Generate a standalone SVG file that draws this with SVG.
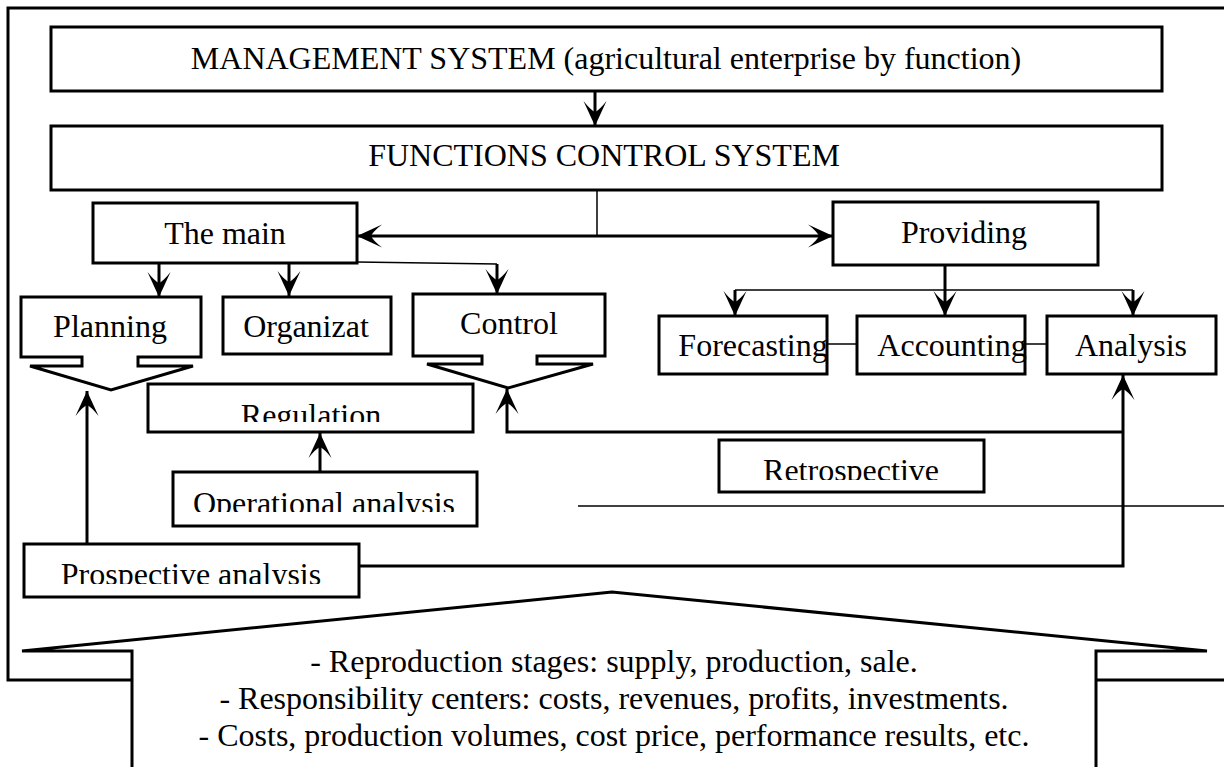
<svg xmlns="http://www.w3.org/2000/svg" width="1224" height="767" viewBox="0 0 1224 767">
<defs>
<style>
.box{fill:#fff;stroke:#000;stroke-width:3}
.thick{fill:none;stroke:#000;stroke-width:3}
.thin{fill:none;stroke:#000;stroke-width:1.5}
.lbl{font-family:"Liberation Serif","Times New Roman",serif;font-size:32px;fill:#000;text-anchor:middle}
</style>
<marker id="ah" viewBox="0 0 25 25" refX="25" refY="12.5" markerWidth="25" markerHeight="25" markerUnits="userSpaceOnUse" orient="auto-start-reverse">
<path d="M25,12.5 L0,1 Q9,8 11,12.5 Q9,17 0,24 Z" fill="#000"/>
</marker>
<clipPath id="cReg"><rect x="148" y="384" width="325" height="38"/></clipPath>
<clipPath id="cOp"><rect x="173" y="472" width="304" height="40"/></clipPath>
<clipPath id="cRet"><rect x="719" y="440" width="265" height="40"/></clipPath>
<clipPath id="cPro"><rect x="24" y="544" width="335" height="40"/></clipPath>
</defs>

<g id="frame">
<path class="thick" d="M1230,8 H8 V680 H1230"/>
</g>

<g id="connectors">
<line class="thick" x1="595" y1="91" x2="595" y2="126" marker-end="url(#ah)"/>
<line class="thin" x1="597" y1="190" x2="597" y2="236"/>
<line class="thick" x1="357" y1="236" x2="833" y2="236" marker-start="url(#ah)" marker-end="url(#ah)"/>
<line class="thick" x1="159" y1="263" x2="159" y2="297" marker-end="url(#ah)"/>
<line class="thick" x1="289" y1="263" x2="289" y2="296" marker-end="url(#ah)"/>
<path class="thin" d="M357,262 L497,264"/>
<line class="thick" x1="497" y1="264" x2="497" y2="294" marker-end="url(#ah)"/>
<line class="thick" x1="945" y1="265" x2="945" y2="316" marker-end="url(#ah)"/>
<line class="thin" x1="735" y1="290" x2="1133" y2="290"/>
<line class="thick" x1="735" y1="290" x2="735" y2="316" marker-end="url(#ah)"/>
<line class="thick" x1="1133" y1="290" x2="1133" y2="316" marker-end="url(#ah)"/>
<line class="thin" x1="827" y1="344" x2="857" y2="344"/>
<line class="thin" x1="1025" y1="344" x2="1051" y2="344"/>
<line class="thick" x1="320" y1="472" x2="320" y2="433" marker-end="url(#ah)"/>
<line class="thick" x1="87" y1="544" x2="87" y2="391" marker-end="url(#ah)"/>
<path class="thick" d="M1123,432 H507 V389" marker-end="url(#ah)"/>
<path class="thick" d="M359,566 H1123 V375" marker-end="url(#ah)"/>
<line class="thin" x1="578" y1="506" x2="1224" y2="506"/>
</g>

<g id="management">
<rect class="box" x="51" y="27" width="1111" height="64"/>
<text class="lbl" x="606" y="69">MANAGEMENT SYSTEM (agricultural enterprise by function)</text>
</g>

<g id="functions">
<rect class="box" x="51" y="126" width="1111" height="64"/>
<text class="lbl" x="604" y="166">FUNCTIONS CONTROL SYSTEM</text>
</g>

<g id="main">
<rect class="box" x="93" y="203" width="264" height="60"/>
<text class="lbl" x="225" y="244">The main</text>
</g>

<g id="providing">
<rect class="box" x="833" y="202" width="265" height="63"/>
<text class="lbl" x="964" y="243">Providing</text>
</g>

<g id="planning">
<path class="box" d="M21,297 H201 V357 H138 V366 H193 L111,390 L30,366 H82 V357 H21 Z"/>
<text class="lbl" x="110" y="337">Planning</text>
</g>

<g id="organizat">
<rect class="box" x="223" y="297" width="168" height="57"/>
<text class="lbl" x="306" y="337">Organizat</text>
</g>

<g id="control">
<path class="box" d="M413,294 H605 V356 H537 V364 H593 L508,388 L427,364 H482 V356 H413 Z"/>
<text class="lbl" x="509" y="334">Control</text>
</g>

<g id="forecasting">
<rect class="box" x="659" y="316" width="168" height="58"/>
<text class="lbl" x="753" y="356">Forecasting</text>
</g>

<g id="accounting">
<rect class="box" x="857" y="316" width="168" height="58"/>
<text class="lbl" x="952" y="356">Accounting</text>
</g>

<g id="analysis">
<rect class="box" x="1047" y="316" width="169" height="58"/>
<text class="lbl" x="1131" y="356">Analysis</text>
</g>

<g id="regulation">
<rect class="box" x="148" y="384" width="325" height="48"/>
<text class="lbl" x="311" y="426" clip-path="url(#cReg)">Regulation</text>
</g>

<g id="operational">
<rect class="box" x="173" y="472" width="304" height="54"/>
<text class="lbl" x="324" y="514" clip-path="url(#cOp)">Operational analysis</text>
</g>

<g id="retrospective">
<rect class="box" x="719" y="440" width="265" height="52"/>
<text class="lbl" x="851" y="481" clip-path="url(#cRet)">Retrospective</text>
</g>

<g id="prospective">
<rect class="box" x="24" y="544" width="335" height="53"/>
<text class="lbl" x="191" y="585" clip-path="url(#cPro)">Prospective analysis</text>
</g>

<g id="summary">
<path d="M132,770 V651 H22 L612,592 L1207,651 H1096 V770" fill="#fff" stroke="#000" stroke-width="3"/>
<text class="lbl" x="614" y="672">- Reproduction stages: supply, production, sale.</text>
<text class="lbl" x="614" y="709">- Responsibility centers: costs, revenues, profits, investments.</text>
<text class="lbl" x="614" y="746">- Costs, production volumes, cost price, performance results, etc.</text>
</g>
</svg>
